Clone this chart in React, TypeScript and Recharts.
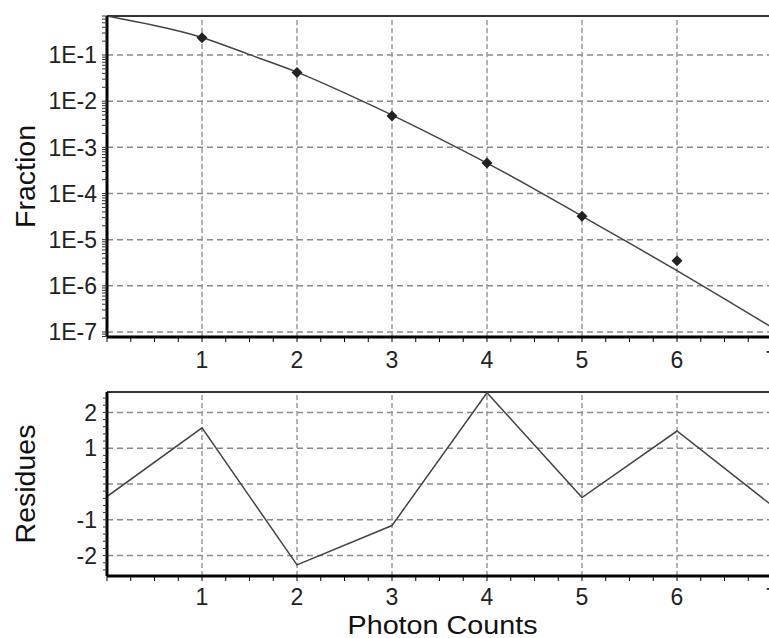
import { ComposedChart, LineChart, Line, XAxis, YAxis, ReferenceLine } from 'recharts';

const FONT = '"Liberation Sans", Arial, sans-serif';

// fitted distribution curve
const FIT_X = [0, 0.5, 1, 1.5, 2, 2.5, 3, 3.5, 4, 4.5, 5, 5.5, 6, 6.5, 7];
const FIT_Y = [0.7, 0.436, 0.24, 0.102, 0.0427, 0.0151, 0.005, 0.00155, 4.57e-4, 1.25e-4, 3.24e-5, 8.4e-6, 2.14e-6, 5.25e-7, 1.26e-7];

// measured points
const OBS_X = [1, 2, 3, 4, 5, 6];
const OBS_Y = [0.237, 0.0417, 0.0048, 4.6e-4, 3.2e-5, 3.5e-6];

// residues
const RES_X = [0, 1, 2, 3, 4, 5, 6, 7];
const RES_Y = [-0.35, 1.57, -2.26, -1.16, 2.55, -0.38, 1.48, -0.6];

const X_LABELS = [1, 2, 3, 4, 5, 6, 7];
const FRAC_LABELS = [1e-1, 1e-2, 1e-3, 1e-4, 1e-5, 1e-6, 1e-7];
const RES_LABELS = [2, 1, -1, -2];
const RES_GRID = [2, 1, 0, -1, -2];

const FRAC_DOMAIN = [7.8e-8, 0.7];
const RES_DOMAIN = [-2.57, 2.57];

const xMinor = Array.from({ length: 29 }, (_, i) => i / 4);
const fracMinor: number[] = [];
for (let e = -8; e <= -1; e++) {
  for (let m = 1; m <= 9; m++) {
    const v = Number((m * Math.pow(10, e)).toPrecision(3));
    if (v >= FRAC_DOMAIN[0] && v <= FRAC_DOMAIN[1]) fracMinor.push(v);
  }
}
const resMinor = Array.from({ length: 25 }, (_, i) => Math.round((i - 12) * 2) / 10);

const topData = FIT_X.map((x, i) => {
  const j = OBS_X.indexOf(x);
  return { x, fit: FIT_Y[i], obs: j >= 0 ? OBS_Y[j] : null };
});
const resData = RES_X.map((x, i) => ({ x, res: RES_Y[i] }));

const tickStyle = { fontSize: 23, fill: '#222', fontFamily: FONT };
const hGrid = { stroke: '#8a8a8a', strokeWidth: 1.5, strokeDasharray: '6 4' };
const vGrid = { stroke: '#9a9a9a', strokeWidth: 1.5, strokeDasharray: '5 3' };

const Diamond = (p: any) => {
  const { cx, cy, payload, index } = p;
  if (payload?.obs == null || cx == null || cy == null) return <g key={`d${index}`} />;
  const r = 5.5;
  return (
    <polygon
      key={`d${index}`}
      points={`${cx},${cy - r} ${cx + r},${cy} ${cx},${cy + r} ${cx - r},${cy}`}
      fill="#222"
    />
  );
};

const VTitle = ({ viewBox, text }: any) => {
  const cy = viewBox.y + viewBox.height / 2;
  return (
    <text x={25} y={cy} transform={`rotate(-90 25 ${cy})`} textAnchor="middle" dominantBaseline="central"
      fontSize={28.5} fontFamily={FONT} fill="#111">
      {text}
    </text>
  );
};

export default function App() {
  return (
    <div style={{ position: 'absolute', left: 0, top: 0, width: 769, height: 638, overflow: 'hidden', background: '#fff' }}>
      <div style={{ position: 'absolute', left: 0, top: 0 }}>
        <ComposedChart width={800} height={380} data={topData} margin={{ top: 16, right: 28, bottom: 0, left: 0 }}>
          <XAxis dataKey="x" type="number" domain={[0, 7]} ticks={xMinor} interval={0} allowDataOverflow
            height={43} tickSize={5} tickMargin={10} tick={tickStyle}
            tickFormatter={(v: number) => (X_LABELS.includes(v) ? String(v) : '')}
            axisLine={{ stroke: '#000', strokeWidth: 3 }} tickLine={{ stroke: '#000', strokeWidth: 1 }} />
          <YAxis type="number" scale="log" domain={FRAC_DOMAIN} allowDataOverflow ticks={fracMinor} interval={0}
            width={107} tickSize={5} tickMargin={5} tick={tickStyle}
            tickFormatter={(v: number) => (FRAC_LABELS.includes(v) ? `1E${Math.round(Math.log10(v))}` : '')}
            axisLine={{ stroke: '#000', strokeWidth: 3 }} tickLine={{ stroke: '#333', strokeWidth: 1 }}
            label={<VTitle text="Fraction" />} />
          {FRAC_LABELS.map((v) => (
            <ReferenceLine key={`h${v}`} y={v} {...hGrid} />
          ))}
          {X_LABELS.map((v) => (
            <ReferenceLine key={`v${v}`} x={v} {...vGrid} />
          ))}
          <ReferenceLine y={FRAC_DOMAIN[1]} stroke="#333" strokeWidth={2} />
          <Line dataKey="fit" type="natural" stroke="#444" strokeWidth={1.5} dot={false} activeDot={false}
            isAnimationActive={false} />
          <Line dataKey="obs" stroke="none" dot={Diamond} activeDot={false} isAnimationActive={false} />
        </ComposedChart>
      </div>
      <div style={{ position: 'absolute', left: 0, top: 372 }}>
        <LineChart width={800} height={266} data={resData} margin={{ top: 20, right: 28, bottom: 0, left: 0 }}>
          <XAxis dataKey="x" type="number" domain={[0, 7]} ticks={xMinor} interval={0} allowDataOverflow
            height={62} tickSize={5} tickMargin={8} tick={tickStyle}
            tickFormatter={(v: number) => (X_LABELS.includes(v) ? String(v) : '')}
            axisLine={{ stroke: '#000', strokeWidth: 3 }} tickLine={{ stroke: '#000', strokeWidth: 1 }}
            label={({ viewBox }: any) => (
              <text x={viewBox.x + viewBox.width / 2 + 3} y={viewBox.y + 58} textAnchor="middle"
                fontSize={25} fontFamily={FONT} fill="#111" textLength={190} lengthAdjust="spacingAndGlyphs">
                Photon Counts
              </text>
            )} />
          <YAxis type="number" domain={RES_DOMAIN} allowDataOverflow ticks={resMinor} interval={0}
            width={107} tickSize={4} tickMargin={6} tick={tickStyle}
            tickFormatter={(v: number) => (RES_LABELS.includes(v) ? String(v) : '')}
            axisLine={{ stroke: '#000', strokeWidth: 3 }} tickLine={{ stroke: '#333', strokeWidth: 1 }}
            label={<VTitle text="Residues" />} />
          {RES_GRID.map((v) => (
            <ReferenceLine key={`h${v}`} y={v} {...hGrid} />
          ))}
          {X_LABELS.map((v) => (
            <ReferenceLine key={`v${v}`} x={v} {...vGrid} />
          ))}
          <ReferenceLine y={RES_DOMAIN[1]} stroke="#333" strokeWidth={2} />
          <Line dataKey="res" type="linear" stroke="#444" strokeWidth={1.5} dot={false} activeDot={false}
            isAnimationActive={false} />
        </LineChart>
      </div>
    </div>
  );
}
